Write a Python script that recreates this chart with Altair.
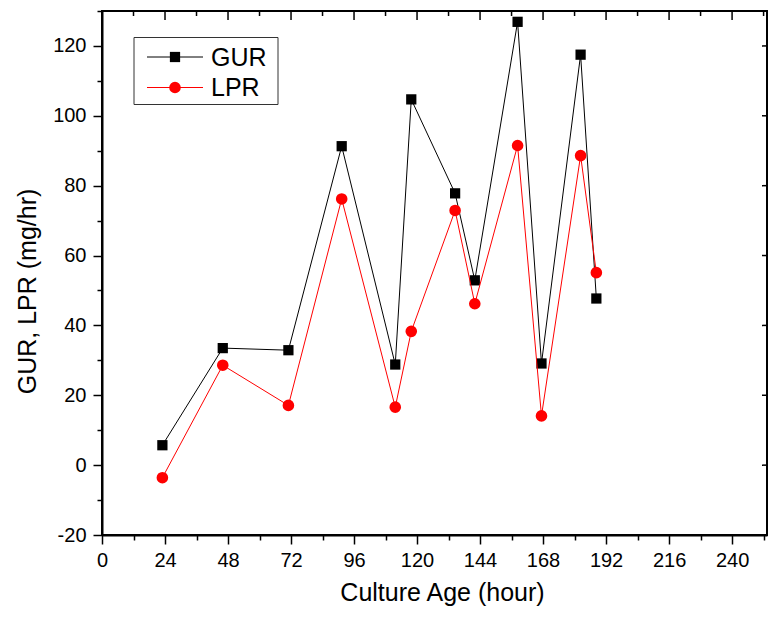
import altair as alt
import pandas as pd

FONT = "Liberation Sans"

hours = [23, 46, 71, 91.3, 111.7, 117.8, 134.5, 142, 158.3, 167.4, 182.3, 188.3]
gur = [5.7, 33.5, 32.9, 91.3, 28.8, 104.7, 77.8, 52.9, 126.9, 29.1, 117.5, 47.7]
lpr = [-3.6, 28.6, 17.1, 76.2, 16.6, 38.3, 72.9, 46.2, 91.5, 14.1, 88.6, 55.1]
series_names = ["GUR", "LPR"]
series_colors = ["#000000", "#ff0000"]

x_ticks = list(range(0, 253, 12))
y_ticks = list(range(-20, 131, 10))
y_major = list(range(-20, 121, 20))

W, H = 665, 524
XMAX = 253.3

df = pd.DataFrame({
    "hour": hours * 2,
    "value": gur + lpr,
    "series": ["GUR"] * len(hours) + ["LPR"] * len(hours),
})

xs = alt.Scale(domain=[0, XMAX], nice=False, zero=False)
ys = alt.Scale(domain=[-20, 130], nice=False, zero=False)

x_axis = alt.Axis(
    values=x_ticks,
    labelExpr="datum.value % 24 === 0 ? '' + datum.value : ''",
    tickSize={"condition": {"test": "datum.value % 24 === 0", "value": 9}, "value": 5},
    title="Culture Age (hour)",
    titleX=340, titleY=65, titleBaseline="alphabetic",
    labelPadding=6, labelFlush=False, labelOverlap=False, grid=False,
)
y_axis = alt.Axis(
    values=y_ticks,
    labelExpr="datum.value % 20 === 0 ? '' + datum.value : ''",
    tickSize={"condition": {"test": "datum.value % 20 === 0", "value": 9}, "value": 5},
    title="GUR, LPR (mg/hr)",
    titleX=-67, titleY=280, titleBaseline="alphabetic",
    labelPadding=7, labelFlush=False, labelOverlap=False, grid=False,
)

X = lambda f: alt.X(f, scale=xs, axis=x_axis)
Y = lambda f: alt.Y(f, scale=ys, axis=y_axis)

base = alt.Chart(df)

def series_layers(name, color, shape, size):
    sub = base.transform_filter(alt.datum.series == name)
    line = sub.mark_line(strokeWidth=1, color=color).encode(x=X("hour:Q"), y=Y("value:Q"))
    pts = sub.mark_point(filled=True, shape=shape, size=size, color=color, opacity=1).encode(
        x=X("hour:Q"), y=Y("value:Q"))
    return [line, pts]

layers = []
layers += series_layers("GUR", series_colors[0], "square", 105)
layers += series_layers("LPR", series_colors[1], "circle", 135)

# inward ticks on top and right frame
top_df = pd.DataFrame({"hour": x_ticks, "major": [v % 24 == 0 for v in x_ticks]})
top_major = alt.Chart(top_df).transform_filter("datum.major").mark_rule(color="black", strokeWidth=1.5).encode(
    x=X("hour:Q"), y=alt.value(0), y2=alt.value(9))
top_minor = alt.Chart(top_df).transform_filter("!datum.major").mark_rule(color="black", strokeWidth=1.5).encode(
    x=X("hour:Q"), y=alt.value(0), y2=alt.value(5))
right_df = pd.DataFrame({"value": y_major})
right_ticks = alt.Chart(right_df).mark_rule(color="black", strokeWidth=1.5).encode(
    y=Y("value:Q"), x=alt.value(W), x2=alt.value(W - 5))
layers += [top_major, top_minor, right_ticks]

# legend
one = pd.DataFrame({"a": [0]})
leg_box = alt.Chart(one).mark_rect(fill="white", stroke="#333333", strokeWidth=1).encode(
    x=alt.value(32), x2=alt.value(176), y=alt.value(26.5), y2=alt.value(93.5))
layers.append(leg_box)
rows = [("GUR", "square", 105, 46), ("LPR", "circle", 135, 76.5)]
for (name, shape, size, yy), color in zip(rows, series_colors):
    layers.append(alt.Chart(one).mark_rule(color=color, strokeWidth=1).encode(
        x=alt.value(45), x2=alt.value(101), y=alt.value(yy)))
    layers.append(alt.Chart(one).mark_point(filled=True, shape=shape, size=size, color=color, opacity=1).encode(
        x=alt.value(73), y=alt.value(yy)))
    layers.append(alt.Chart(one).mark_text(text=name, align="left", baseline="alphabetic",
                                           fontSize=25, font=FONT, color="black").encode(
        x=alt.value(109), y=alt.value(yy + 8.8)))

chart = alt.layer(*layers).properties(
    width=W, height=H,
    autosize=alt.AutoSizeParams(type="none"),
    padding={"left": 94, "top": 3, "right": 1, "bottom": 74},
).configure_view(
    stroke="black", strokeWidth=2
).configure_axis(
    domainColor="black", domainWidth=2, tickColor="black", tickWidth=1.5,
    labelFont=FONT, labelFontSize=20, labelColor="black",
    titleFont=FONT, titleFontSize=25, titleFontWeight="normal", titleColor="black",
)

chart.save("out.html", embed_options={"renderer": "svg", "actions": False})
